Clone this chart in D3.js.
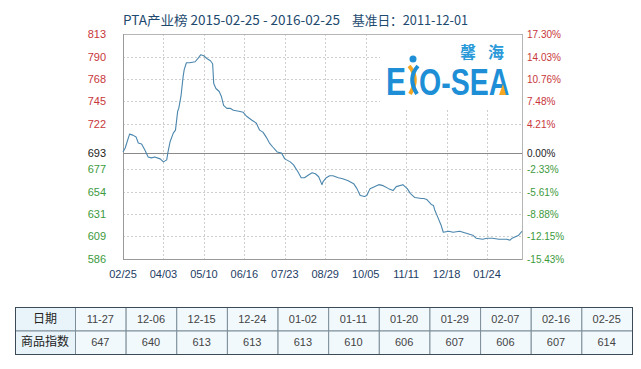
<!DOCTYPE html>
<html><head><meta charset="utf-8">
<script src="https://cdn.jsdelivr.net/npm/d3@7/dist/d3.min.js"></script>
<style>body{margin:0;background:#fff}svg{display:block}</style>
</head><body>
<script>
const titleText = "PTA产业榜 2015-02-25 - 2016-02-25";
const baseText = "基准日：2011-12-01";
const baseValue = 693;
const leftTicks = [813,790,768,745,722,693,677,654,631,609,586];
const rightTicks = ["17.30%","14.03%","10.76%","7.48%","4.21%","0.00%","-2.33%","-5.61%","-8.88%","-12.15%","-15.43%"];
const xTickLabels = ["02/25","04/03","05/10","06/16","07/23","08/29","10/05","11/11","12/18","01/24"];
const startDate = "2015-02-25", endDate = "2016-02-25";
const dates = ["2015-02-25","2015-02-27","2015-03-03","2015-03-06","2015-03-09","2015-03-11","2015-03-14","2015-03-17","2015-03-20","2015-03-23","2015-03-26","2015-03-31","2015-04-03","2015-04-06","2015-04-07","2015-04-09","2015-04-12","2015-04-14","2015-04-16","2015-04-17","2015-04-19","2015-04-21","2015-04-22","2015-04-24","2015-04-27","2015-05-02","2015-05-05","2015-05-07","2015-05-10","2015-05-13","2015-05-16","2015-05-18","2015-05-19","2015-05-21","2015-05-24","2015-05-26","2015-05-28","2015-05-31","2015-06-03","2015-06-06","2015-06-11","2015-06-15","2015-06-18","2015-06-23","2015-06-27","2015-06-30","2015-07-03","2015-07-06","2015-07-09","2015-07-12","2015-07-16","2015-07-20","2015-07-23","2015-07-28","2015-07-31","2015-08-04","2015-08-07","2015-08-10","2015-08-14","2015-08-17","2015-08-20","2015-08-23","2015-08-26","2015-08-27","2015-08-30","2015-09-02","2015-09-05","2015-09-10","2015-09-14","2015-09-19","2015-09-24","2015-09-27","2015-09-30","2015-10-04","2015-10-06","2015-10-09","2015-10-13","2015-10-17","2015-10-21","2015-10-26","2015-10-30","2015-11-02","2015-11-08","2015-11-12","2015-11-15","2015-11-19","2015-11-25","2015-11-27","2015-11-30","2015-12-04","2015-12-06","2015-12-07","2015-12-10","2015-12-13","2015-12-15","2015-12-20","2015-12-24","2015-12-30","2016-01-02","2016-01-05","2016-01-11","2016-01-14","2016-01-20","2016-01-24","2016-01-29","2016-02-04","2016-02-07","2016-02-11","2016-02-14","2016-02-16","2016-02-22","2016-02-25"];
const values = [694,698,712,711,709,703,702,696,689,688,689,687,684,686,693,704,713,716,735,738,750,770,777,784,784,785,789,792,791,788,786,783,763,758,755,750,741,738,738,736,735,734,730,726,723,716,714,709,703,699,694,693,687,684,681,674,668,668,671,673,672,669,661,664,668,670,670,668,667,665,662,657,650,649,650,657,659,661,660,657,655,659,661,657,652,648,647,647,646,641,640,636,628,620,613,614,613,614,613,612,610,607,606,607,607,606,606,606,605,607,610,614];
const tableDates = ["11-27","12-06","12-15","12-24","01-02","01-11","01-20","01-29","02-07","02-16","02-25"];
const tableValues = [647,640,613,613,613,610,606,607,606,607,614];

const W = 641, H = 369;
const svg = d3.select("body").append("svg").attr("width", W).attr("height", H);
const font = "'Liberation Sans', Arial, sans-serif";
const cjk = "'Noto Sans CJK SC', 'Liberation Sans', sans-serif";
const plot = {l:123, r:522, t:34, b:259};

const parse = d3.timeParse("%Y-%m-%d");
const x = d3.scaleTime().domain([parse(startDate), parse(endDate)]).range([plot.l, plot.r]);
const y = d3.scaleLinear().domain([586, 813]).range([plot.b, plot.t]);
const xTickDates = xTickLabels.map((_, i) => d3.timeDay.offset(parse(startDate), i * 37));

// gridlines
const g = svg.append("g");
g.selectAll("line.h").data(leftTicks.filter(v => v !== baseValue && v !== 586 && v !== 813)).join("line")
  .attr("x1", plot.l).attr("x2", plot.r).attr("y1", d => Math.round(y(d)) + 0.5).attr("y2", d => Math.round(y(d)) + 0.5)
  .attr("stroke", "#cfcfcf").attr("stroke-dasharray", "2,2");
g.selectAll("line.v").data(xTickDates.slice(1)).join("line")
  .attr("x1", d => Math.round(x(d)) + 0.5).attr("x2", d => Math.round(x(d)) + 0.5).attr("y1", plot.t).attr("y2", plot.b)
  .attr("stroke", "#cfcfcf").attr("stroke-dasharray", "2,2");

// logo background
svg.append("rect").attr("x", 380).attr("y", plot.t + 1).attr("width", plot.r - 381).attr("height", 73).attr("fill", "#fff");

// frame
svg.append("rect").attr("x", plot.l + 0.5).attr("y", plot.t + 0.5).attr("width", plot.r - plot.l).attr("height", plot.b - plot.t)
  .attr("fill", "none").attr("stroke", "#b5b5b5");
svg.append("line").attr("x1", plot.l + 0.5).attr("x2", plot.l + 0.5).attr("y1", plot.t).attr("y2", plot.b).attr("stroke", "#9a9a9a");
svg.append("line").attr("x1", plot.l).attr("x2", plot.r).attr("y1", plot.b + 0.5).attr("y2", plot.b + 0.5).attr("stroke", "#9a9a9a");
// base line
svg.append("line").attr("x1", plot.l).attr("x2", plot.r).attr("y1", Math.round(y(baseValue)) + 0.5).attr("y2", Math.round(y(baseValue)) + 0.5)
  .attr("stroke", "#8a8a8a");

// logo
const logo = svg.append("g");
logo.append("text").attr("x", 460).attr("y", 58).attr("font-family", cjk).attr("font-weight", "bold").attr("font-size", 16)
  .attr("fill", "#2a9ad8").attr("textLength", 44).text("馨 海");
logo.append("text").attr("transform", "translate(386,95) scale(1,1.3)").attr("font-family", font).attr("font-weight", "bold").attr("font-size", 30)
  .attr("fill", "#1e8fd6").text("E");
logo.append("text").attr("transform", "translate(419,95) scale(1,1.3)").attr("font-family", font).attr("font-weight", "bold").attr("font-size", 28.5)
  .attr("fill", "#1e8fd6").text("O-SEA");
logo.append("circle").attr("cx", 413).attr("cy", 59).attr("r", 3.5).attr("fill", "#1e8fd6");
logo.append("path").attr("d", "M409,66 Q420,78 410,94").attr("stroke", "#f5a623").attr("stroke-width", 4).attr("fill", "none");
logo.append("path").attr("d", "M418,66 Q407,78 417,94").attr("stroke", "#1e8fd6").attr("stroke-width", 4).attr("fill", "none");
logo.append("path").attr("d", "M499,95 L503,84 L506,95 Z").attr("fill", "#f5a623");

// line
const data = dates.map((d, i) => ({date: parse(d), value: values[i]}));
svg.append("path").datum(data).attr("fill", "none").attr("stroke", "#4a86ad").attr("stroke-width", 1.1)
  .attr("stroke-linejoin", "round")
  .attr("d", d3.line().x(d => x(d.date)).y(d => y(d.value)));

// left labels
const colorOf = (v) => v > baseValue ? "#c8363a" : (v < baseValue ? "#3c9a3c" : "#222");
svg.append("g").selectAll("text").data(leftTicks).join("text")
  .attr("x", 106).attr("y", d => y(d) + 4).attr("text-anchor", "end")
  .attr("font-family", font).attr("font-size", 11).attr("fill", colorOf).text(d => d);
// right labels
svg.append("g").selectAll("text").data(rightTicks).join("text")
  .attr("x", 527).attr("y", (d, i) => y(leftTicks[i]) + 4)
  .attr("font-family", font).attr("font-size", 10).attr("fill", (d, i) => colorOf(leftTicks[i])).text(d => d);
// x labels
svg.append("g").selectAll("text").data(xTickLabels).join("text")
  .attr("x", (d, i) => x(xTickDates[i])).attr("y", 278).attr("text-anchor", "middle")
  .attr("font-family", font).attr("font-size", 11).attr("fill", "#1d3c64").text(d => d);

// title
svg.append("text").attr("x", 123).attr("y", 25).attr("font-family", cjk).attr("font-size", 13).attr("fill", "#1d4a6e")
  .attr("textLength", 217).attr("lengthAdjust", "spacingAndGlyphs").text(titleText);
svg.append("text").attr("x", 352).attr("y", 25).attr("font-family", cjk).attr("font-size", 13).attr("fill", "#1d4a6e")
  .attr("textLength", 116).attr("lengthAdjust", "spacingAndGlyphs").text(baseText);

// table
const tb = {l:15, t:307, rowH:23.5, firstW:60, r:632};
const colW = (tb.r - tb.l - tb.firstW) / tableDates.length;
const tg = svg.append("g");
const rows = [{label:"日期", cells:tableDates}, {label:"商品指数", cells:tableValues}];
rows.forEach((row, ri) => {
  const yy = tb.t + ri * tb.rowH;
  tg.append("rect").attr("x", tb.l + 0.5).attr("y", yy + 0.5).attr("width", tb.firstW).attr("height", tb.rowH)
    .attr("fill", "#e9f4fa").attr("stroke", "#7d8e99");
  tg.append("text").attr("x", tb.l + tb.firstW / 2).attr("y", yy + tb.rowH / 2 + 4).attr("text-anchor", "middle")
    .attr("font-family", cjk).attr("font-size", 12).attr("fill", "#222").text(row.label);
  row.cells.forEach((c, ci) => {
    const xx = tb.l + tb.firstW + ci * colW;
    tg.append("rect").attr("x", xx + 0.5).attr("y", yy + 0.5).attr("width", colW).attr("height", tb.rowH)
      .attr("fill", "#f2f9fd").attr("stroke", "#7d8e99");
    tg.append("text").attr("x", xx + colW / 2).attr("y", yy + tb.rowH / 2 + 4).attr("text-anchor", "middle")
      .attr("font-family", font).attr("font-size", 11).attr("fill", "#444").text(c);
  });
});
tg.append("rect").attr("x", tb.l + 0.5).attr("y", tb.t + 0.5).attr("width", tb.r - tb.l).attr("height", tb.rowH * 2)
  .attr("fill", "none").attr("stroke", "#3c4a55");
</script>
</body></html>
